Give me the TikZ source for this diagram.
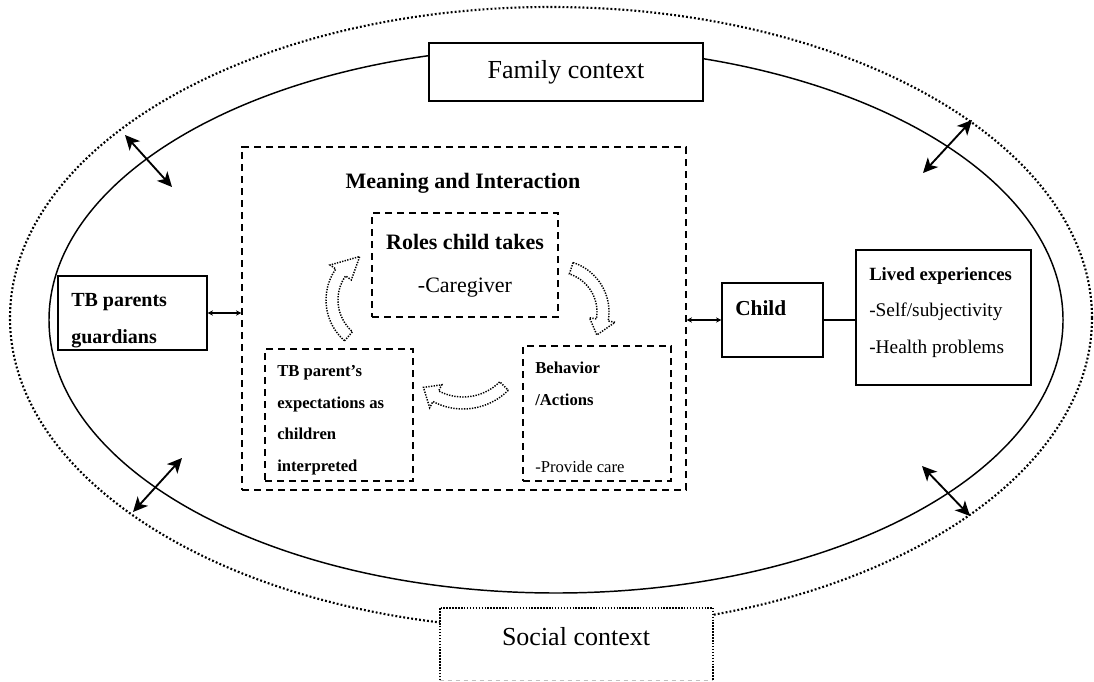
\documentclass[tikz,border=0pt]{standalone}
\usepackage{fontspec}
\setmainfont{Liberation Serif}
\usetikzlibrary{arrows.meta}
\newcommand\bentarrow[8]{%
  \draw[bentline] plot[domain=#5:#6, samples=30] ({#1+#4*cos(\x)},{#2+#4*sin(\x)})
    -- ({#1+(#4+#8)*cos(#6)},{#2+(#4+#8)*sin(#6)})
    -- ({#1+(#3+#4)/2*cos(#7)},{#2+(#3+#4)/2*sin(#7)})
    -- ({#1+(#3-#8)*cos(#6)},{#2+(#3-#8)*sin(#6)})
    -- plot[domain=#6:#5, samples=30] ({#1+#3*cos(\x)},{#2+#3*sin(\x)})
    -- cycle;}
\tikzset{
  solidbox/.style={draw, line width=1pt, fill=white, inner sep=0pt},
  dashbox/.style={draw, line width=1pt, dash pattern=on 5.5pt off 3.5pt, inner sep=0pt},
  lbl/.style={inner sep=0pt, anchor=west, text height=0.7em, text depth=0.2em},
  clbl/.style={inner sep=0pt, text height=0.7em, text depth=0.2em},
  ctxfont/.style={font=\fontsize{19.5}{23}\selectfont},
  bentline/.style={line width=1.1pt, dash pattern=on 1pt off 1pt},
  bigarrow/.style={line width=1.4pt, {Stealth[length=11pt,width=10.5pt,inset=3pt]}-{Stealth[length=11pt,width=10.5pt,inset=3pt]}},
  smallarrow/.style={line width=0.9pt, {Stealth[length=4pt,width=4pt]}-{Stealth[length=4pt,width=4pt]}},
}
\begin{document}
\begin{tikzpicture}[x=0.75pt,y=-0.75pt]
\useasboundingbox[fill=white] (0,0) rectangle (1094,681);
% ellipses
\draw[line width=1.6pt, dash pattern=on 1.4pt off 1.6pt] (551,318) ellipse [x radius=541, y radius=311];
\draw[line width=1.1pt] (556,320) ellipse [x radius=507, y radius=273];
% context boxes
\node[solidbox, minimum width=205.5pt, minimum height=43.5pt] (family) at (566,72) {};
\node[clbl, ctxfont] (familyt) at (566,75) {Family context};
\node[fill=white, inner sep=0pt, minimum width=204.75pt, minimum height=54pt] (social) at (576.5,644) {};
\draw[line width=1.4pt, dash pattern=on 1.1pt off 1.1pt] (social.south west) -- (social.north west) -- (social.north east) -- (social.south east);
\draw[gray!50, line width=0.6pt, dashed] (social.south west) -- (social.south east);
\node[clbl, ctxfont] (socialt) at (576,642) {Social context};
% TB parents guardians
\node[solidbox, minimum width=111.75pt, minimum height=55.5pt] (tbp) at (132.5,313) {};
\node[lbl, font=\fontsize{15}{18}\selectfont\bfseries] (tbp1) at (71,303) {TB parents};
\node[lbl, font=\fontsize{15}{18}\selectfont\bfseries] (tbp2) at (71,340) {guardians};
% meaning box
\node[dashbox, minimum width=333pt, minimum height=257.25pt] (meaning) at (464,318.5) {};
\node[clbl, font=\fontsize{16.5}{20}\selectfont\bfseries] (meaningt) at (463,185) {Meaning and Interaction};
% roles
\node[dashbox, minimum width=139.5pt, minimum height=78pt] (roles) at (465,265) {};
\node[clbl, font=\fontsize{16.5}{20}\selectfont\bfseries] (roles1) at (465,246) {Roles child takes};
\node[clbl, font=\fontsize{16.5}{20}\selectfont] (roles2) at (465,289) {-Caregiver};
% TB parent's expectations
\node[dashbox, minimum width=111pt, minimum height=99pt] (tbexp) at (339,415) {};
\node[lbl, font=\fontsize{12.5}{15}\selectfont\bfseries] (tbexp1) at (277,373) {TB parent’s};
\node[lbl, font=\fontsize{12.5}{15}\selectfont\bfseries] (tbexp2) at (277,405) {expectations as};
\node[lbl, font=\fontsize{12.5}{15}\selectfont\bfseries] (tbexp3) at (277,436) {children};
\node[lbl, font=\fontsize{12.5}{15}\selectfont\bfseries] (tbexp4) at (277,468) {interpreted};
% behavior
\node[dashbox, minimum width=111pt, minimum height=101.25pt] (behav) at (597,413.5) {};
\node[lbl, font=\fontsize{12.5}{15}\selectfont\bfseries] (behav1) at (535,370) {Behavior};
\node[lbl, font=\fontsize{12.5}{15}\selectfont\bfseries] (behav2) at (535,402) {/Actions};
\node[lbl, font=\fontsize{12.5}{15}\selectfont] (behav3) at (535,469) {-Provide care};
% child
\node[solidbox, minimum width=75.75pt, minimum height=55.5pt] (child) at (772.5,320) {};
\node[lbl, font=\fontsize{16}{19}\selectfont\bfseries] (childt) at (735,312) {Child};
% lived
\node[solidbox, minimum width=131.25pt, minimum height=101.25pt] (lived) at (943.5,317.5) {};
\node[lbl, font=\fontsize{14}{17}\selectfont\bfseries] (lived1) at (869,277) {Lived experiences};
\node[lbl, font=\fontsize{14.5}{17}\selectfont] (lived2) at (869,313) {-Self/subjectivity};
\node[lbl, font=\fontsize{14.5}{17}\selectfont] (lived3) at (869,350) {-Health problems};
% connectors
\draw[smallarrow] (tbp.east) -- (tbp.east -| meaning.west);
\draw[smallarrow] (child.west -| meaning.east) -- (child.west);
\draw[line width=1pt] (child.east) -- (child.east -| lived.west);
% big arrows across the family boundary
\coordinate (a1s) at (125,135); \coordinate (a1e) at (172,187);
\coordinate (a2s) at (972,120); \coordinate (a2e) at (923,173);
\coordinate (a3s) at (182,458); \coordinate (a3e) at (133,512);
\coordinate (a4s) at (922,466); \coordinate (a4e) at (970,516);
\draw[bigarrow] (a1s) -- (a1e);
\draw[bigarrow] (a2s) -- (a2e);
\draw[bigarrow] (a3s) -- (a3e);
\draw[bigarrow] (a4s) -- (a4e);
% curved dotted block arrows
\bentarrow{380}{300}{42}{54}{131}{215}{245}{7}
\bentarrow{557}{312}{40}{52}{288}{370}{390}{7}
\bentarrow{463}{345}{52}{64}{45}{118}{133}{7}
\end{tikzpicture}
\end{document}
